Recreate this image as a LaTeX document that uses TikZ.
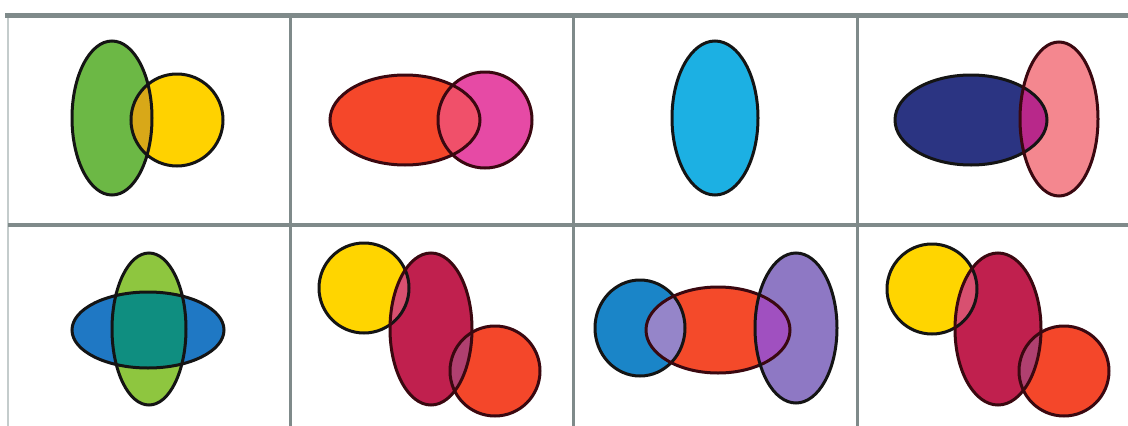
\documentclass[tikz,border=0pt]{standalone}
\usetikzlibrary{calc}
\definecolor{gridgray}{HTML}{7F8A8A}
\definecolor{lightgray}{HTML}{C4CCCC}
\definecolor{gA}{HTML}{6CB845}
\definecolor{yA}{HTML}{FFD200}
\definecolor{oA}{HTML}{D8A818}
\definecolor{rB}{HTML}{F5472A}
\definecolor{pB}{HTML}{E64AA5}
\definecolor{oB}{HTML}{F0506A}
\definecolor{cC}{HTML}{1CB0E3}
\definecolor{nD}{HTML}{2B3482}
\definecolor{sD}{HTML}{F4878F}
\definecolor{oD}{HTML}{B8288A}
\definecolor{gE}{HTML}{8EC63F}
\definecolor{bE}{HTML}{1F78C4}
\definecolor{oE}{HTML}{0F8E80}
\definecolor{yF}{HTML}{FFD500}
\definecolor{cF}{HTML}{C0204E}
\definecolor{rF}{HTML}{F4472A}
\definecolor{oFa}{HTML}{D85070}
\definecolor{oFb}{HTML}{B04070}
\definecolor{bG}{HTML}{1A85C8}
\definecolor{rG}{HTML}{F44A2A}
\definecolor{pG}{HTML}{8E78C4}
\definecolor{oGa}{HTML}{9585C9}
\definecolor{oGb}{HTML}{A050C0}
\definecolor{edgeK}{HTML}{141414}
\definecolor{edgeR}{HTML}{3A0810}
\tikzset{
  gridline/.style={draw=gridgray, line width=3pt},
  outlineK/.style={draw=edgeK, line width=3pt},
  outlineR/.style={draw=edgeR, line width=3pt}
}
\begin{document}
\begin{tikzpicture}[x=1pt,y=-1pt]
\useasboundingbox (0,0) rectangle (1128,426);
\fill[white] (0,0) rectangle (1128,426);
% grid
\coordinate (tl) at (5,15);
\coordinate (tr) at (1128,15);
\coordinate (ml) at (8,225);
\coordinate (mr) at (1128,225);
\draw[draw=lightgray, line width=2pt] (8,15) -- (8,426);
\draw[gridline] (290,15) -- (290,426);
\draw[gridline] (573,15) -- (573,426);
\draw[gridline] (857,15) -- (857,426);
\draw[draw=gridgray, line width=5pt] (tl) -- (tr);
\draw[draw=gridgray, line width=4pt] (ml) -- (mr);

% cell 1
\fill[gA] (112,118) ellipse [x radius=40, y radius=77];
\fill[yA] (177,120) circle [radius=46];
\begin{scope}\clip (112,118) ellipse [x radius=40, y radius=77];
\fill[oA] (177,120) circle [radius=46];\end{scope}
\draw[outlineK] (112,118) ellipse [x radius=40, y radius=77];
\draw[outlineK] (177,120) circle [radius=46];

% cell 2
\fill[rB] (405,120) ellipse [x radius=75, y radius=45];
\fill[pB] (485,120) ellipse [x radius=47, y radius=48];
\begin{scope}\clip (405,120) ellipse [x radius=75, y radius=45];
\fill[oB] (485,120) ellipse [x radius=47, y radius=48];\end{scope}
\draw[outlineR] (405,120) ellipse [x radius=75, y radius=45];
\draw[outlineR] (485,120) ellipse [x radius=47, y radius=48];

% cell 3
\fill[cC] (715,118) ellipse [x radius=43, y radius=77];
\draw[outlineK] (715,118) ellipse [x radius=43, y radius=77];

% cell 4
\fill[nD] (971,120) ellipse [x radius=76, y radius=45];
\fill[sD] (1059,119) ellipse [x radius=39, y radius=77];
\begin{scope}\clip (971,120) ellipse [x radius=76, y radius=45];
\fill[oD] (1059,119) ellipse [x radius=39, y radius=77];\end{scope}
\draw[outlineK] (971,120) ellipse [x radius=76, y radius=45];
\draw[outlineR] (1059,119) ellipse [x radius=39, y radius=77];

% cell 5
\fill[gE] (149,329) ellipse [x radius=37, y radius=76];
\fill[bE] (148,330) ellipse [x radius=76, y radius=38];
\begin{scope}\clip (149,329) ellipse [x radius=37, y radius=76];
\fill[oE] (148,330) ellipse [x radius=76, y radius=38];\end{scope}
\draw[outlineK] (149,329) ellipse [x radius=37, y radius=76];
\draw[outlineK] (148,330) ellipse [x radius=76, y radius=38];

% cell 6
\fill[yF] (364,288) circle [radius=45];
\fill[cF] (431,329) ellipse [x radius=41, y radius=76];
\fill[rF] (495,371) circle [radius=45];
\begin{scope}\clip (431,329) ellipse [x radius=41, y radius=76];
\fill[oFa] (364,288) circle [radius=45];
\fill[oFb] (495,371) circle [radius=45];\end{scope}
\draw[outlineK] (364,288) circle [radius=45];
\draw[outlineR] (431,329) ellipse [x radius=41, y radius=76];
\draw[outlineR] (495,371) circle [radius=45];

% cell 7
\fill[bG] (640,328) ellipse [x radius=45, y radius=48];
\fill[rG] (718,330) ellipse [x radius=72, y radius=43];
\fill[pG] (796,328) ellipse [x radius=41, y radius=75];
\begin{scope}\clip (718,330) ellipse [x radius=72, y radius=43];
\fill[oGa] (640,328) ellipse [x radius=45, y radius=48];
\fill[oGb] (796,328) ellipse [x radius=41, y radius=75];\end{scope}
\draw[outlineK] (640,328) ellipse [x radius=45, y radius=48];
\draw[outlineR] (718,330) ellipse [x radius=72, y radius=43];
\draw[outlineK] (796,328) ellipse [x radius=41, y radius=75];

% cell 8
\fill[yF] (932,289) circle [radius=45];
\fill[cF] (998,329) ellipse [x radius=43, y radius=76];
\fill[rF] (1064,371) circle [radius=45];
\begin{scope}\clip (998,329) ellipse [x radius=43, y radius=76];
\fill[oFa] (932,289) circle [radius=45];
\fill[oFb] (1064,371) circle [radius=45];\end{scope}
\draw[outlineK] (932,289) circle [radius=45];
\draw[outlineR] (998,329) ellipse [x radius=43, y radius=76];
\draw[outlineR] (1064,371) circle [radius=45];
\end{tikzpicture}
\end{document}
